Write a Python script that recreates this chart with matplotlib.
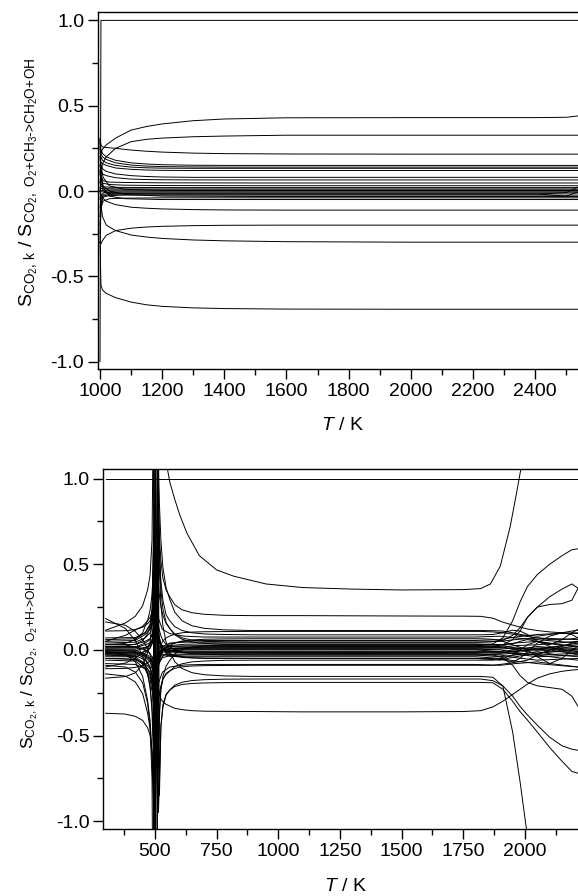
import matplotlib
matplotlib.use('Agg')
import matplotlib.pyplot as plt
from matplotlib.ticker import MultipleLocator, FormatStrFormatter

plt.rcParams['font.family'] = ['Liberation Sans', 'DejaVu Sans']
plt.rcParams['mathtext.fontset'] = 'custom'
plt.rcParams['mathtext.rm'] = 'Liberation Sans'
plt.rcParams['mathtext.it'] = 'Liberation Sans:italic'
plt.rcParams['axes.unicode_minus'] = False

# ---------------- upper panel: normalised to O2+CH3->CH2O+OH ----------------
T_top = [1000, 1003, 1008, 1020, 1050, 1100, 1150, 1200, 1300, 1400, 1600, 2000, 2400, 2500, 2540]
top_u43 = [0.30, 0.22, 0.245, 0.27, 0.31, 0.357, 0.378, 0.393, 0.412, 0.422, 0.429, 0.43, 0.43, 0.432, 0.44]
top_u33 = [0.0, 0.10, 0.16, 0.20, 0.25, 0.289, 0.303, 0.31, 0.318, 0.322, 0.327, 0.327, 0.327, 0.327, 0.327]
top_u22 = [0.31, 0.27, 0.258, 0.255, 0.25, 0.24, 0.233, 0.228, 0.222, 0.219, 0.217, 0.216, 0.216, 0.216, 0.216]
top_u15 = [0.28, 0.24, 0.22, 0.20, 0.18, 0.165, 0.158, 0.154, 0.151, 0.15, 0.15, 0.15, 0.15, 0.15, 0.15]
top_u14 = [0.26, 0.22, 0.20, 0.185, 0.165, 0.152, 0.146, 0.143, 0.141, 0.14, 0.14, 0.14, 0.14, 0.14, 0.14]
top_u13 = [0.20, 0.20, 0.18, 0.165, 0.15, 0.14, 0.136, 0.134, 0.133, 0.133, 0.133, 0.133, 0.133, 0.133, 0.133]
top_u12 = [0.15, 0.17, 0.16, 0.15, 0.135, 0.127, 0.123, 0.121, 0.12, 0.12, 0.12, 0.12, 0.12, 0.12, 0.12]
top_u08 = [0.10, 0.15, 0.13, 0.115, 0.10, 0.09, 0.085, 0.082, 0.08, 0.08, 0.08, 0.08, 0.08, 0.08, 0.08]
top_u065 = [0.05, 0.12, 0.10, 0.09, 0.078, 0.07, 0.067, 0.066, 0.065, 0.065, 0.065, 0.065, 0.065, 0.065, 0.065]
top_d11 = [0.0, -0.02, -0.04, -0.06, -0.08, -0.095, -0.101, -0.105, -0.109, -0.111, -0.112, -0.112, -0.112, -0.112, -0.112]
top_d20 = [-0.30, -0.31, -0.29, -0.26, -0.232, -0.218, -0.211, -0.207, -0.203, -0.201, -0.20, -0.20, -0.20, -0.20, -0.20]
top_d30 = [0.0, -0.08, -0.15, -0.20, -0.232, -0.258, -0.27, -0.278, -0.287, -0.292, -0.297, -0.30, -0.30, -0.30, -0.30]
top_d69 = [-0.30, -0.55, -0.58, -0.60, -0.625, -0.651, -0.667, -0.676, -0.685, -0.689, -0.692, -0.693, -0.693, -0.693, -0.693]

# reference reaction itself
T_top_ref = [1000, 1003, 2540]
top_ref = [-1.0, 1.0, 1.0]

# crowded band around zero
T_top_band = [1000, 1003, 1010, 1030, 1080, 1200, 1500, 2400, 2500, 2540]
t01 = [0.10, 0.06, 0.045, 0.038, 0.034, 0.032, 0.031, 0.031, 0.031, 0.031]
t02 = [0.05, 0.03, 0.025, 0.022, 0.021, 0.02, 0.02, 0.02, 0.02, 0.02]
t03 = [0.0, 0.015, 0.014, 0.013, 0.012, 0.012, 0.012, 0.012, 0.012, 0.012]
t04 = [-0.05, 0.0, 0.005, 0.006, 0.006, 0.006, 0.006, 0.006, 0.006, 0.006]
t05 = [0.02, 0.0, 0.0, 0.0, 0.0, 0.0, 0.0, 0.0, 0.0, 0.0]
t06 = [-0.10, -0.03, -0.01, -0.007, -0.006, -0.006, -0.006, -0.006, -0.006, -0.006]
t07 = [-0.15, -0.05, -0.02, -0.014, -0.012, -0.012, -0.012, -0.012, -0.012, -0.012]
t08 = [0.15, 0.05, 0.0, -0.01, -0.015, -0.018, -0.018, -0.018, -0.01, 0.025]
t09 = [-0.20, -0.07, -0.035, -0.027, -0.024, -0.024, -0.024, -0.024, -0.024, -0.024]
t10 = [0.20, 0.08, 0.03, 0.0, -0.02, -0.03, -0.032, -0.032, -0.032, -0.032]
t11 = [-0.25, -0.10, -0.06, -0.045, -0.042, -0.04, -0.04, -0.04, -0.04, -0.04]
t12 = [0.25, 0.10, 0.02, -0.03, -0.045, -0.05, -0.05, -0.05, -0.05, -0.05]
t13 = [0.12, 0.09, 0.06, 0.052, 0.05, 0.048, 0.047, 0.047, 0.047, 0.047]
t14 = [0.30, 0.15, 0.08, 0.03, 0.01, 0.003, 0.003, 0.003, 0.003, 0.003]
t15 = [-0.30, -0.10, -0.03, -0.02, -0.018, -0.017, -0.017, -0.017, -0.03, -0.005]

# ---------------- lower panel: normalised to O2+H->OH+O ----------------
T_bot = [300, 380, 420, 450, 470, 480, 488, 494, 498, 502, 506, 510, 514, 518, 524, 532, 545, 560, 580, 610,
         650, 700, 780, 900, 1100, 1500, 1750, 1820, 1870, 1910, 1950, 1980, 2010, 2050, 2100, 2150, 2190, 2215]
bot_B = [0.183, 0.125, 0.055, -0.037, -0.14, -0.22, -0.33, -0.53, -0.84, -1.98, 6.0, 1.4, 0.87, 0.66, 0.52, 0.42,
         0.35, 0.31, 0.264, 0.234, 0.217, 0.208, 0.202, 0.2,
         0.2, 0.198, 0.197, 0.196, 0.185, 0.162, 0.145, 0.133, 0.122, 0.113, 0.105, 0.1, 0.097, 0.095]
bot_P1 = [0.115, 0.157, 0.196, 0.258, 0.35, 0.435, 0.64, 1.53, -4.06, -0.86, -0.5, -0.37, -0.3, -0.25, -0.21, -0.17,
          -0.143, -0.124, -0.098, -0.081, -0.07, -0.065, -0.061, -0.06,
          -0.06, -0.06, -0.06, -0.06, -0.06, -0.05, -0.03, 0.0, 0.03, 0.05, 0.04, 0.03, 0.02, 0.02]
bot_D1 = [0.05, 0.085, 0.116, 0.138, 0.17, 0.19, 0.22, 0.258, 0.3, 0.373, 0.529, 0.78, -0.95, -0.77, -0.443, -0.337,
          -0.264, -0.234, -0.206, -0.189, -0.179, -0.174, -0.171, -0.17,
          -0.17, -0.17, -0.17, -0.17, -0.18, -0.21, -0.27, -0.33, -0.38, -0.44, -0.51, -0.56, -0.58, -0.586]
bot_D2 = [-0.1, -0.077, -0.049, -0.015, 0.017, 0.04, 0.06, 0.085, 0.113, 0.162, 0.266, 0.646, 0.73, -0.85, -0.45, -0.32,
          -0.26, -0.235, -0.214, -0.202, -0.196, -0.193, -0.191, -0.19,
          -0.19, -0.19, -0.19, -0.19, -0.192, -0.23, -0.3, -0.36, -0.41, -0.48, -0.57, -0.65, -0.71, -0.72]
bot_N36 = [-0.37, -0.375, -0.388, -0.412, -0.454, -0.498, -0.602, -0.8, 0.5, 0.04, -0.138, -0.206, -0.242, -0.265, -0.286, -0.303,
           -0.318, -0.328, -0.341, -0.349, -0.355, -0.358, -0.359, -0.36,
           -0.362, -0.362, -0.36, -0.355, -0.333, -0.3, -0.26, -0.23, -0.2, -0.165, -0.14, -0.125, -0.118, -0.115]
bot_D3 = [-0.14, -0.153, -0.187, -0.256, -0.369, -0.46, -0.61, -0.867, -1.28, -2.8, -6.0, 1.445, 0.733, 0.46, 0.266, 0.141,
          0.045, -0.009, -0.069, -0.109, -0.133, -0.145, -0.152, -0.155,
          -0.155, -0.155, -0.155, -0.155, -0.16, -0.21, -0.48, -0.77, -1.09, -1.6, -2.0, -2.0, -2.0, -2.0]
bot_R1 = [0.03, 0.038, 0.06, 0.1, 0.173, 0.23, 0.324, 0.485, 0.745, 1.7, -5.0, -0.97, -0.525, -0.355, -0.233, -0.155,
          -0.095, -0.061, -0.024, 0.002, 0.016, 0.024, 0.028, 0.03,
          0.03, 0.03, 0.03, 0.03, 0.035, 0.07, 0.17, 0.28, 0.37, 0.44, 0.5, 0.55, 0.585, 0.59]
bot_R2 = [-0.02, -0.026, -0.042, -0.071, -0.113, -0.141, -0.18, -0.23, -0.287, -0.384, -0.59, -0.9, 0.95, 0.55, 0.35, 0.24,
          0.16, 0.125, 0.093, 0.07, 0.057, 0.05, 0.047, 0.045,
          0.045, 0.045, 0.045, 0.045, 0.048, 0.055, 0.085, 0.13, 0.19, 0.25, 0.31, 0.355, 0.385, 0.36]
bot_R3 = [0.02, 0.023, 0.033, 0.054, 0.094, 0.138, 0.242, 0.686, -0.7, -0.38, -0.202, -0.134, -0.098, -0.075, -0.054, -0.037,
          -0.022, -0.012, 0.001, 0.009, 0.015, 0.018, 0.019, 0.02,
          0.02, 0.02, 0.02, 0.02, 0.022, 0.03, 0.06, 0.11, 0.19, 0.25, 0.265, 0.27, 0.29, 0.36]
bot_E1 = [-0.03, -0.035, -0.05, -0.081, -0.141, -0.206, -0.363, -0.65, 0.85, 0.4, 0.26, 0.19, 0.146, 0.113, 0.081, 0.056,
          0.032, 0.018, -0.001, -0.014, -0.022, -0.026, -0.029, -0.03,
          -0.03, -0.03, -0.03, -0.03, -0.03, -0.045, -0.09, -0.15, -0.19, -0.21, -0.22, -0.23, -0.27, -0.33]
bot_F11 = [0.11, 0.112, 0.119, 0.132, 0.153, 0.17, 0.198, 0.246, 0.324, 0.5, -0.6, -0.192, -0.059, -0.007, 0.029, 0.052,
           0.07, 0.081, 0.092, 0.1, 0.104, 0.106, 0.107, 0.108,
           0.108, 0.108, 0.108, 0.108, 0.105, 0.1, 0.092, 0.085, 0.078, 0.07, 0.06, 0.06, 0.065, 0.07]
bot_Lb = [0.163, 0.144, 0.108, 0.059, 0.007, -0.031, -0.07, -0.12, -0.177, -0.274, -0.48, -0.75, 0.85, 0.6, 0.4, 0.29,
          0.205, 0.17, 0.136, 0.113, 0.1, 0.093, 0.09, 0.088,
          0.088, 0.088, 0.088, 0.088, 0.09, 0.1, 0.115, 0.11, 0.09, 0.05, 0.03, 0.06, 0.1, 0.12]
bot_Lc = [-0.165, -0.156, -0.134, -0.087, -0.017, 0.047, 0.178, 0.6, -0.8, -0.435, -0.213, -0.127, -0.082, -0.054, -0.028, -0.006,
          0.013, 0.025, 0.041, 0.052, 0.058, 0.062, 0.064, 0.065,
          0.065, 0.065, 0.065, 0.065, 0.062, 0.05, 0.03, 0.015, 0.0, -0.04, -0.08, -0.05, 0.0, 0.02]
bot_W2 = [-0.05, -0.052, -0.059, -0.072, -0.093, -0.11, -0.138, -0.186, -0.264, -0.55, 0.6, 0.25, 0.117, 0.065, 0.029, 0.006,
          -0.013, -0.023, -0.034, -0.041, -0.046, -0.048, -0.049, -0.05,
          -0.05, -0.05, -0.05, -0.05, -0.05, -0.058, -0.07, -0.05, -0.01, 0.04, 0.08, 0.1, 0.09, 0.07]
bot_W4 = [-0.11, -0.108, -0.102, -0.091, -0.075, -0.065, -0.05, -0.031, -0.01, 0.026, 0.104, 0.39, -0.7, -0.39, -0.226, -0.173,
          -0.137, -0.122, -0.108, -0.099, -0.094, -0.092, -0.091, -0.09,
          -0.09, -0.09, -0.09, -0.09, -0.09, -0.083, -0.075, -0.068, -0.06, -0.03, 0.0, 0.02, 0.04, 0.05]
bot_M1 = [-0.01, -0.026, -0.069, -0.155, -0.296, -0.41, -0.598, -0.919, -3.0, 5.0, 2.5, 1.6, 1.1, 0.85, 0.639, 0.483,
          0.363, 0.295, 0.22, 0.17, 0.141, 0.126, 0.117, 0.113,
          0.113, 0.113, 0.113, 0.113, 0.112, 0.11, 0.1, 0.09, 0.085, 0.08, 0.09, 0.1, 0.11, 0.115]
bot_M2 = [-0.09, -0.1, -0.129, -0.192, -0.312, -0.443, -0.756, -2.09, 6.03, 1.23, 0.696, 0.491, 0.383, 0.316, 0.252, 0.202,
          0.155, 0.125, 0.088, 0.062, 0.046, 0.037, 0.032, 0.03,
          0.03, 0.03, 0.03, 0.03, 0.03, 0.03, 0.035, 0.05, 0.06, 0.05, 0.02, -0.01, -0.02, -0.03]

# the curve that leaves the frame at both ends of its plateau
T_bot_A = [300, 380, 420, 450, 470, 480, 488, 494, 498, 502, 506, 510, 514, 518, 524, 532, 545, 560, 580, 600,
           630, 680, 750, 820, 950, 1100, 1300, 1500, 1750, 1820, 1860, 1900, 1940, 1965, 1985, 2010]
bot_A = [0.0, -0.005, -0.01, -0.02, -0.03, -0.045, -0.06, -0.08, -0.1, -0.14, -0.2, -0.5, 4.0, 4.0, 3.0, 2.0,
         1.1, 0.98, 0.88, 0.79, 0.68, 0.55, 0.467, 0.43, 0.385, 0.364, 0.355, 0.35, 0.352, 0.358,
         0.385, 0.49, 0.72, 0.91, 1.07, 1.5]

T_bot_ref = [300, 2215]
bot_ref = [1.0, 1.0]

T_bot_band = [300, 420, 460, 480, 490, 497, 503, 508, 515, 530, 560, 620, 700, 1800, 1900, 1960, 2050, 2130, 2215]
k01 = [0.05, 0.055, 0.09, 0.12, 0.17, 0.3, -0.27, -0.15, -0.07, 0.02, 0.04, 0.045, 0.045, 0.045, 0.05, 0.06, 0.07, 0.065, 0.06]
k02 = [0.04, 0.045, 0.07, 0.1, 0.15, 0.3, -0.25, -0.12, -0.05, 0.0, 0.025, 0.033, 0.035, 0.035, 0.03, 0.01, 0.0, 0.02, 0.04]
k03 = [0.03, 0.032, 0.05, 0.065, 0.09, 0.15, -0.13, -0.07, -0.03, 0.01, 0.02, 0.024, 0.025, 0.025, 0.03, 0.04, 0.05, 0.03, 0.02]
k04 = [0.02, 0.02, 0.0, -0.02, -0.05, -0.12, 0.12, 0.07, 0.04, 0.025, 0.02, 0.018, 0.018, 0.018, 0.02, 0.0, -0.02, -0.01, 0.0]
k05 = [0.01, 0.012, 0.03, 0.04, 0.055, 0.1, -0.09, -0.05, -0.02, 0.0, 0.007, 0.01, 0.01, 0.01, 0.015, 0.025, 0.03, 0.04, 0.05]
k06 = [0.0, 0.0, -0.03, -0.06, -0.1, -0.2, 0.18, 0.1, 0.05, 0.02, 0.01, 0.006, 0.005, 0.005, 0.0, -0.015, -0.03, -0.025, -0.02]
k07 = [-0.005, -0.005, 0.01, 0.03, 0.06, 0.15, -0.14, -0.08, -0.04, -0.015, -0.005, 0.0, 0.0, 0.0, -0.01, 0.0, 0.02, 0.01, 0.0]
k08 = [-0.01, -0.012, -0.04, -0.07, -0.12, -0.25, 0.22, 0.12, 0.05, 0.01, -0.003, -0.007, -0.008, -0.008, -0.01, -0.025, -0.04, -0.035, -0.03]
k09 = [-0.02, -0.02, -0.05, -0.1, -0.17, -0.35, 0.3, 0.15, 0.06, 0.01, -0.008, -0.014, -0.015, -0.015, -0.02, -0.01, 0.01, 0.02, 0.03]
k10 = [-0.03, -0.032, -0.06, -0.1, -0.16, -0.32, 0.3, 0.15, 0.06, 0.01, -0.012, -0.018, -0.02, -0.022, -0.03, -0.045, -0.06, -0.055, -0.05]
k11 = [-0.04, -0.04, -0.02, 0.01, 0.07, 0.25, -0.3, -0.15, -0.08, -0.045, -0.035, -0.03, -0.03, -0.03, -0.04, -0.03, -0.01, -0.03, -0.04]
k12 = [-0.05, -0.055, -0.09, -0.13, -0.2, -0.35, 0.25, 0.1, 0.02, -0.025, -0.036, -0.04, -0.04, -0.04, -0.05, -0.065, -0.08, -0.09, -0.1]
k13 = [0.06, 0.065, 0.1, 0.15, 0.22, 0.4, -0.45, -0.2, -0.08, 0.0, 0.035, 0.05, 0.055, 0.055, 0.06, 0.075, 0.09, 0.095, 0.1]
k14 = [-0.06, -0.065, -0.11, -0.17, -0.26, -0.45, 0.5, 0.22, 0.09, 0.0, -0.035, -0.045, -0.05, -0.05, -0.06, -0.04, -0.02, 0.0, 0.01]
k15 = [0.015, 0.015, 0.04, 0.06, 0.1, 0.2, -0.2, -0.1, -0.04, 0.0, 0.01, 0.013, 0.013, 0.013, 0.012, 0.011, 0.01, 0.0, -0.01]
k16 = [-0.015, -0.016, -0.035, -0.05, -0.08, -0.15, 0.14, 0.07, 0.03, 0.0, -0.009, -0.012, -0.012, -0.012, -0.015, -0.008, 0.0, 0.01, 0.02]
k17 = [0.07, 0.072, 0.1, 0.14, 0.2, 0.35, 0.5, 0.3, 0.18, 0.12, 0.095, 0.08, 0.075, 0.075, 0.08, 0.07, 0.06, 0.05, 0.04]
k18 = [-0.08, -0.085, -0.11, -0.15, -0.22, -0.4, -0.55, -0.3, -0.19, -0.13, -0.1, -0.088, -0.085, -0.085, -0.09, -0.08, -0.07, -0.085, -0.1]
k19 = [0.005, 0.005, 0.015, 0.025, 0.04, 0.08, -0.07, -0.035, -0.015, 0.0, 0.004, 0.005, 0.005, 0.005, 0.005, 0.01, 0.0, -0.01, -0.015]
k20 = [-0.025, -0.026, -0.01, 0.01, 0.04, 0.12, -0.2, -0.1, -0.05, -0.03, -0.026, -0.025, -0.025, -0.025, -0.025, -0.02, -0.03, -0.045, -0.06]

top_main = [top_u43, top_u33, top_u22, top_u15, top_u14, top_u13, top_u12, top_u08,
            top_u065, top_d11, top_d20, top_d30, top_d69]
top_band = [t01, t02, t03, t04, t05, t06, t07, t08, t09, t10, t11, t12, t13, t14, t15]
bot_main = [bot_B, bot_P1, bot_D1, bot_D2, bot_N36, bot_D3, bot_R1, bot_R2, bot_R3,
            bot_E1, bot_F11, bot_Lb, bot_Lc, bot_W2, bot_W4, bot_M1, bot_M2]
bot_band = [k01, k02, k03, k04, k05, k06, k07, k08, k09, k10,
            k11, k12, k13, k14, k15, k16, k17, k18, k19, k20]

LW = 0.7
FS = 14


def style_axes(ax):
    ax.spines['right'].set_visible(False)
    for s in ('left', 'bottom', 'top'):
        ax.spines[s].set_linewidth(1.0)
    ax.tick_params(which='both', direction='out', width=1.0, labelsize=FS, top=False, right=False)
    ax.tick_params(which='major', length=7, pad=3)
    ax.tick_params(which='minor', length=4)
    ax.yaxis.set_major_locator(MultipleLocator(0.5))
    ax.yaxis.set_minor_locator(MultipleLocator(0.25))
    ax.yaxis.set_major_formatter(FormatStrFormatter('%.1f'))


fig = plt.figure(figsize=(5.78, 8.96), dpi=100)

ax1 = fig.add_axes([0.1696, 0.5882, 0.8304, 0.3984])
ax1.plot(T_top_ref, top_ref, color='k', lw=LW)
for ys in top_main:
    ax1.plot(T_top, ys, color='k', lw=LW)
for ys in top_band:
    ax1.plot(T_top_band, ys, color='k', lw=LW)
ax1.set_xlim(993.6, 2538.4)
ax1.set_ylim(-1.043, 1.049)
ax1.xaxis.set_major_locator(MultipleLocator(200))
ax1.xaxis.set_minor_locator(MultipleLocator(100))
style_axes(ax1)
ax1.set_xlabel(r'$T$ / K', fontsize=FS)
ax1.xaxis.set_label_coords(0.51, -0.135)
ax1.set_ylabel(r'$\mathrm{S}_{\mathrm{CO_2,\,k}}$ / $\mathrm{S}_{\mathrm{CO_2,\ O_2\!+\!CH_3\text{->}CH_2O\!+\!OH}}$',
               fontsize=14)
ax1.yaxis.set_label_coords(-0.12, 0.524)

ax2 = fig.add_axes([0.1787, 0.0744, 0.8213, 0.4018])
ax2.plot(T_bot_ref, bot_ref, color='k', lw=LW)
ax2.plot(T_bot_A, bot_A, color='k', lw=LW)
for ys in bot_main:
    ax2.plot(T_bot, ys, color='k', lw=LW)
for ys in bot_band:
    ax2.plot(T_bot_band, ys, color='k', lw=LW)
ax2.set_xlim(290.4, 2214.9)
ax2.set_ylim(-1.048, 1.0545)
ax2.xaxis.set_major_locator(MultipleLocator(250))
ax2.xaxis.set_minor_locator(MultipleLocator(125))
style_axes(ax2)
ax2.set_xlabel(r'$T$ / K', fontsize=FS)
ax2.xaxis.set_label_coords(0.511, -0.135)
ax2.set_ylabel(r'$\mathrm{S}_{\mathrm{CO_2,\,k}}$ / $\mathrm{S}_{\mathrm{CO_2,\ O_2\!+\!H\text{->}OH\!+\!O}}$',
               fontsize=12.5)
ax2.yaxis.set_label_coords(-0.133, 0.481)

fig.savefig('out.png', dpi=100)
